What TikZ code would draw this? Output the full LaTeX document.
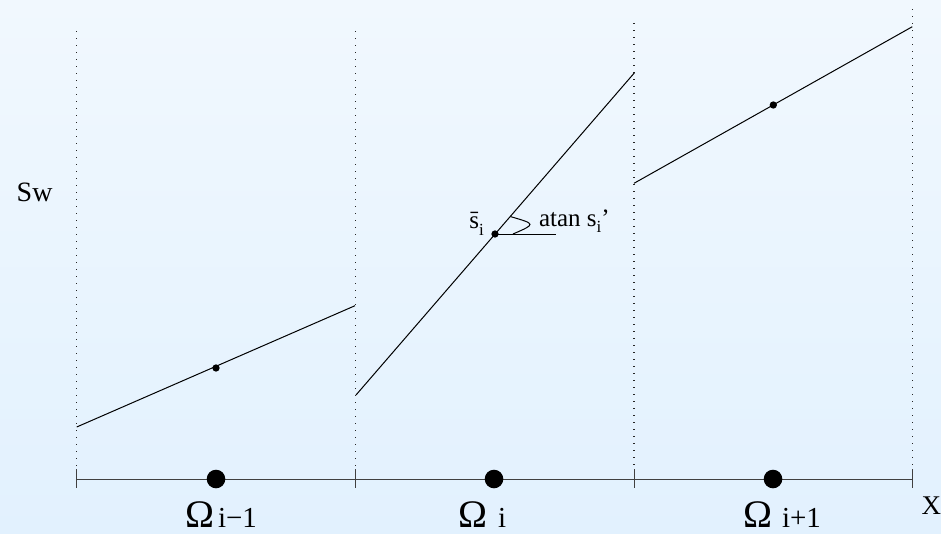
\documentclass[tikz,border=0pt]{standalone}
\usepackage{fontspec}
\setmainfont{Liberation Serif}
\newfontfamily\tms{Liberation Serif}
\newcommand\fsz[1]{\fontsize{#1}{#1}\selectfont}
\definecolor{bgtop}{HTML}{F1F8FE}
\definecolor{bgbot}{HTML}{E2F1FE}
\begin{document}
\begin{tikzpicture}[x=1pt,y=-1pt,
  every node/.style={font=\tms},
  lbl/.style={inner sep=0pt, outer sep=0pt, anchor=base west},
  seg/.style={line width=1pt, black},
  guide/.style={line width=1.1pt, black!85, dash pattern=on 1pt off 6pt},
  axisline/.style={line width=1pt, black!75},
  sdot/.style={circle, fill=black, inner sep=0pt, minimum size=7.3pt},
  bdot/.style={circle, fill=black, inner sep=0pt, minimum size=18.6pt}]
\fill[top color=bgtop,bottom color=bgbot] (0,0) rectangle (941,533);
\useasboundingbox (0,0) rectangle (941,533);

% guide lines
\coordinate (g1t) at (76.7,31);  \coordinate (g1b) at (76.7,470);
\coordinate (g2t) at (355.3,31); \coordinate (g2b) at (355.3,470);
\coordinate (g3t) at (634,23);   \coordinate (g3b) at (634,470);
\coordinate (g4t) at (912.7,9);  \coordinate (g4b) at (912.7,470);
\draw[guide] (g1t) -- (g1b);
\draw[guide] (g2t) -- (g2b);
\draw[guide] (g3t) -- (g3b);
\draw[guide] (g4t) -- (g4b);

% axis
\coordinate (a0) at (76.7,479); \coordinate (a3) at (912.7,479);
\draw[axisline] (a0) -- (a3);
\coordinate (t1a) at (76.7,469);  \coordinate (t1b) at (76.7,488);
\coordinate (t2a) at (355.3,469); \coordinate (t2b) at (355.3,488);
\coordinate (t3a) at (634,469);   \coordinate (t3b) at (634,488);
\coordinate (t4a) at (912.7,469); \coordinate (t4b) at (912.7,488);
\draw[axisline] (t1a) -- (t1b);
\draw[axisline] (t2a) -- (t2b);
\draw[axisline] (t3a) -- (t3b);
\draw[axisline] (t4a) -- (t4b);
\node[bdot] (b1) at (216,479) {};
\node[bdot] (b2) at (494,479) {};
\node[bdot] (b3) at (773,479) {};

% linear reconstructions
\coordinate (s1a) at (76.7,427);  \coordinate (s1b) at (355,305.7);
\coordinate (s2a) at (356,395);   \coordinate (s2b) at (634.5,72.7);
\coordinate (s3a) at (634,183.3); \coordinate (s3b) at (912.3,26.7);
\draw[seg] (s1a) -- (s1b);
\draw[seg] (s2a) -- (s2b);
\draw[seg] (s3a) -- (s3b);
\node[sdot] (p1) at (216,368) {};
\node[sdot] (p2) at (495,234) {};
\node[sdot] (p3) at (773.3,105) {};

% slope angle
\coordinate (h2) at (556,234);
\draw[seg] (p2.center) -- (h2);
\coordinate (arcA) at (510.5,216.6);
\coordinate (arcB) at (513,234);
\draw[seg] (arcA) .. controls (536,224) .. (arcB);

% labels
\node[lbl] (sw) at (16.7,201) {\fsz{28}Sw};
\node[lbl] (xl) at (921.5,514) {\fsz{27}X};
\node[lbl] (atan) at (539,226.7) {\fsz{25}atan s\raisebox{-6pt}{\fsz{17}i}’};
\node[inner sep=0pt, anchor=base east] (sbar) at (484,228) {\fsz{25}\={s}\raisebox{-7pt}{\fsz{17}i}};

\node[lbl] (om1) at (185,527) {\fsz{39}Ω};
\node[lbl] (om1s) at (218,527) {\fsz{29}i−1};
\node[lbl] (om2) at (458,527) {\fsz{39}Ω};
\node[lbl] (om2s) at (498,527) {\fsz{29}i};
\node[lbl] (om3) at (743,527) {\fsz{39}Ω};
\node[lbl] (om3s) at (782,527) {\fsz{29}i+1};
\end{tikzpicture}
\end{document}
